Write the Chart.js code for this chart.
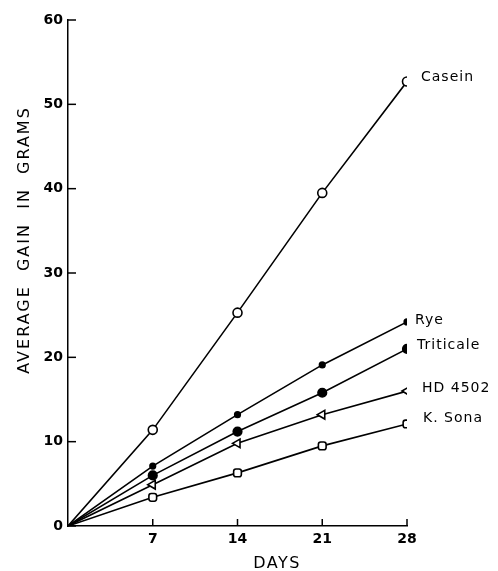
<!DOCTYPE html>
<html>
<head>
<meta charset="utf-8">
<script src="https://cdn.jsdelivr.net/npm/chart.js@4/dist/chart.umd.min.js"></script>
<style>
  html, body { margin: 0; padding: 0; background: #fff; }
  #wrap { width: 498px; height: 571px; position: relative; }
</style>
</head>
<body>
<div id="wrap"><canvas id="gainChart"></canvas></div>
<script>
// datos
const days = [0, 7, 14, 21, 28];
const casein = [0, 11.4, 25.3, 39.5, 52.7];
const rye = [0, 7.1, 13.2, 19.1, 24.2];
const triticale = [0, 6.0, 11.2, 15.8, 21.0];
const hd4502 = [0, 4.9, 9.8, 13.2, 16.0];
const kSona = [0, 3.4, 6.3, 9.5, 12.1];
const seriesNames = ['Casein', 'Rye', 'Triticale', 'HD 4502', 'K. Sona'];
const xTicks = [7, 14, 21, 28];
const yTicks = [0, 10, 20, 30, 40, 50, 60];

const FONT = "'DejaVu Sans', sans-serif";

function puntos(vals) {
  return days.map((d, i) => ({ x: d, y: vals[i] }));
}

// marcador: sin punto en el origen
function radios(r) {
  return days.map(d => d === 0 ? 0 : r);
}

function serie(label, vals, estilo) {
  return Object.assign({
    label: label,
    data: puntos(vals),
    borderColor: '#000',
    borderWidth: 1.6,
    pointBorderColor: '#000',
    pointBorderWidth: 1.6,
    tension: 0
  }, estilo);
}

const datasets = [
  serie(seriesNames[0], casein, { pointStyle: 'circle', pointRadius: radios(4.5), pointBackgroundColor: '#fff' }),
  serie(seriesNames[1], rye, { pointStyle: 'circle', pointRadius: radios(2.8), pointBackgroundColor: '#000' }),
  serie(seriesNames[2], triticale, { pointStyle: 'circle', pointRadius: radios(4.3), pointBackgroundColor: '#000' }),
  serie(seriesNames[3], hd4502, { pointStyle: 'triangle', pointRadius: radios(5), pointBackgroundColor: '#fff', pointRotation: -90 }),
  serie(seriesNames[4], kSona, { pointStyle: 'rectRounded', pointRadius: radios(4.5), pointBackgroundColor: '#fff' })
];

// ticks hacia adentro
const marcasEje = {
  id: 'marcasEje',
  afterDraw(chart) {
    const { ctx, chartArea, scales } = chart;
    ctx.save();
    ctx.strokeStyle = '#000';
    ctx.lineWidth = 1.5;
    yTicks.forEach(v => {
      const y = scales.y.getPixelForValue(v);
      ctx.beginPath();
      ctx.moveTo(chartArea.left, y);
      ctx.lineTo(chartArea.left + 8, y);
      ctx.stroke();
    });
    xTicks.forEach(v => {
      const x = scales.x.getPixelForValue(v);
      ctx.beginPath();
      ctx.moveTo(x, chartArea.bottom);
      ctx.lineTo(x, chartArea.bottom - 7);
      ctx.stroke();
    });
    ctx.restore();
  }
};

// nombres al final de cada linea
const etiquetas = {
  id: 'etiquetas',
  afterDatasetsDraw(chart, args, opts) {
    const { ctx } = chart;
    ctx.save();
    ctx.fillStyle = '#000';
    ctx.font = '14px ' + FONT;
    ctx.letterSpacing = '1px';
    ctx.textBaseline = 'middle';
    ctx.textAlign = 'left';
    chart.data.datasets.forEach((ds, i) => {
      const meta = chart.getDatasetMeta(i);
      const p = meta.data[meta.data.length - 1];
      const off = opts.offsets[i];
      ctx.fillText(ds.label, p.x + off[0], p.y + off[1]);
    });
    ctx.restore();
  }
};

const titulos = {
  id: 'titulos',
  afterDraw(chart) {
    const { ctx } = chart;
    ctx.save();
    ctx.fillStyle = '#000';
    ctx.textAlign = 'center';
    ctx.textBaseline = 'middle';
    ctx.font = '16px ' + FONT;
    ctx.letterSpacing = '1.5px';
    ctx.fillText('DAYS', 277, 564);
    ctx.translate(25, 240);
    ctx.rotate(-Math.PI / 2);
    ctx.letterSpacing = '2px';
    ctx.fillText('AVERAGE  GAIN  IN  GRAMS', 0, 0);
    ctx.restore();
  }
};

new Chart(document.getElementById('gainChart'), {
  type: 'line',
  data: { datasets: datasets },
  options: {
    responsive: true,
    maintainAspectRatio: false,
    animation: false,
    layout: { padding: { left: 0, top: 20, right: 91, bottom: 0 } },
    plugins: {
      legend: { display: false },
      tooltip: { enabled: false },
      etiquetas: {
        offsets: [[14, -4], [8, -2], [10, -4], [15, -3], [16, -6]]
      }
    },
    scales: {
      x: {
        type: 'linear',
        min: 0,
        max: 28,
        afterFit(scale) { scale.height = 45; },
        afterBuildTicks(scale) { scale.ticks = xTicks.map(v => ({ value: v })); },
        grid: { display: false, drawTicks: false },
        border: { display: true, color: '#000', width: 1.5 },
        ticks: {
          color: '#000',
          padding: 5,
          font: { family: FONT, size: 14, weight: 'bold' }
        }
      },
      y: {
        min: 0,
        max: 60,
        afterFit(scale) { scale.width = 68; },
        afterBuildTicks(scale) { scale.ticks = yTicks.map(v => ({ value: v })); },
        grid: { display: false, drawTicks: false },
        border: { display: true, color: '#000', width: 1.5 },
        ticks: {
          color: '#000',
          padding: 5,
          font: { family: FONT, size: 14, weight: 'bold' }
        }
      }
    }
  },
  plugins: [marcasEje, etiquetas, titulos]
});
</script>
</body>
</html>
